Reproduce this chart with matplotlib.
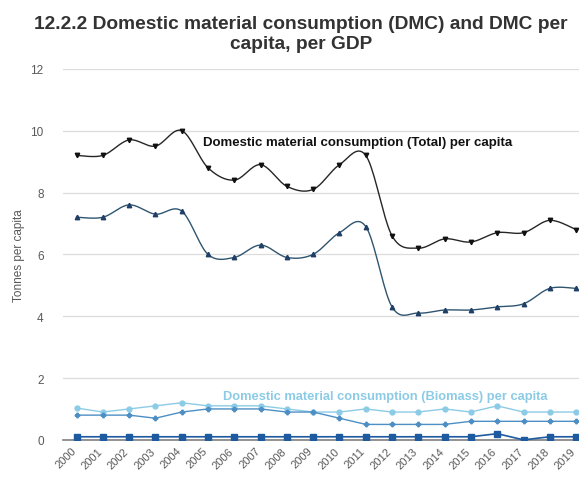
import numpy as np
import matplotlib.pyplot as plt
import matplotlib.transforms as mtransforms

plt.rcParams['font.family'] = ['Liberation Sans', 'DejaVu Sans']

years = [str(y) for y in range(2000, 2020)]
total_per_capita = [9.2, 9.2, 9.7, 9.5, 10.0, 8.8, 8.4, 8.9, 8.2, 8.1,
                    8.9, 9.2, 6.6, 6.2, 6.5, 6.4, 6.7, 6.7, 7.1, 6.8]
other_per_capita = [7.2, 7.2, 7.6, 7.3, 7.4, 6.0, 5.9, 6.3, 5.9, 6.0,
                    6.7, 6.9, 4.3, 4.1, 4.2, 4.2, 4.3, 4.4, 4.9, 4.9]
biomass_per_capita = [1.03, 0.9, 1.0, 1.1, 1.2, 1.1, 1.1, 1.1, 1.0, 0.9,
                      0.9, 1.0, 0.9, 0.9, 1.0, 0.9, 1.1, 0.9, 0.9, 0.9]
series_mid = [0.8, 0.8, 0.8, 0.7, 0.9, 1.0, 1.0, 1.0, 0.9, 0.9,
              0.7, 0.5, 0.5, 0.5, 0.5, 0.6, 0.6, 0.6, 0.6, 0.6]
series_low = [0.1, 0.1, 0.1, 0.1, 0.1, 0.1, 0.1, 0.1, 0.1, 0.1,
              0.1, 0.1, 0.1, 0.1, 0.1, 0.1, 0.2, 0.0, 0.1, 0.1]


# smooth line through the points (Catmull-Rom, like the spreadsheet "smoothed line")
def smooth(x, y, n=20):
    x = np.asarray(x, float)
    y = np.asarray(y, float)
    px = np.concatenate([[x[0]], x, [x[-1]]])
    py = np.concatenate([[y[0]], y, [y[-1]]])
    xs, ys = [], []
    t = np.linspace(0, 1, n)
    for i in range(1, len(px) - 2):
        for p, out in ((px, xs), (py, ys)):
            p0, p1, p2, p3 = p[i - 1], p[i], p[i + 1], p[i + 2]
            m1 = (p2 - p0) / 2
            m2 = (p3 - p1) / 2
            h00 = 2 * t**3 - 3 * t**2 + 1
            h10 = t**3 - 2 * t**2 + t
            h01 = -2 * t**3 + 3 * t**2
            h11 = t**3 - t**2
            out.extend(h00 * p1 + h10 * m1 + h01 * p2 + h11 * m2)
    return np.array(xs), np.array(ys)


x = np.arange(len(years))

fig = plt.figure(figsize=(5.79, 4.85), dpi=100)
ax = fig.add_axes([0.109, 0.091, 0.891, 0.765])

sx, sy = smooth(x, total_per_capita)
ax.plot(sx, sy, color='#262626', lw=1.0, zorder=3)
ax.plot(x, total_per_capita, ls='none', marker='v', ms=3.2, color='#111111', zorder=4)

sx, sy = smooth(x, other_per_capita)
ax.plot(sx, sy, color='#2f5570', lw=1.0, zorder=3)
ax.plot(x, other_per_capita, ls='none', marker='^', ms=3.2, color='#1f3f66', zorder=4)

ax.plot(x, biomass_per_capita, color='#8ccbe6', lw=1.0, marker='o', ms=3.5, zorder=3)
ax.plot(x, series_mid, color='#4d8fc4', lw=1.0, marker='P', ms=3.2, zorder=3)
ax.plot(x, series_low, color='#1d5aa0', lw=1.2, marker='s', ms=4.5, zorder=3)

ax.text(4.81, 9.64, 'Domestic material consumption (Total) per capita',
        fontsize=9.5, fontweight='bold', color='#111111', va='center')
ax.text(5.57, 1.42, 'Domestic material consumption (Biomass) per capita',
        fontsize=9.3, fontweight='bold', color='#8ccbe6', va='center')

ax.set_xlim(-0.51, 19.11)
ax.set_ylim(0, 12)
ax.set_yticks([0, 2, 4, 6, 8, 10, 12])
ax.set_xticks(x)
ax.set_xticklabels(years, rotation=45, ha='right', rotation_mode='anchor')
ax.tick_params(axis='both', length=0, labelsize=8.5, labelcolor='#595959')
ax.tick_params(axis='x', labelsize=8.0)
ax.tick_params(axis='y', pad=14)
ax.tick_params(axis='x', pad=4)
# nudge year labels a bit left so 2019 stays inside the picture
shift = mtransforms.ScaledTranslation(-4 / 72, 0, fig.dpi_scale_trans)
for lab in ax.get_xticklabels():
    lab.set_transform(lab.get_transform() + shift)
ax.grid(axis='y', color='#dcdcdc', lw=0.9)
ax.set_axisbelow(True)
for s in ['top', 'right', 'left']:
    ax.spines[s].set_visible(False)
ax.spines['bottom'].set_color('#7f7f7f')
ax.spines['bottom'].set_linewidth(1.2)
ax.set_ylabel('Tonnes per capita', fontsize=8.5, color='#595959', labelpad=4)

fig.suptitle('12.2.2 Domestic material consumption (DMC) and DMC per\ncapita, per GDP',
             x=0.52, y=0.968, fontsize=13.8, fontweight='bold', color='#333333',
             linespacing=1.3)

fig.savefig('out.png', dpi=100)
